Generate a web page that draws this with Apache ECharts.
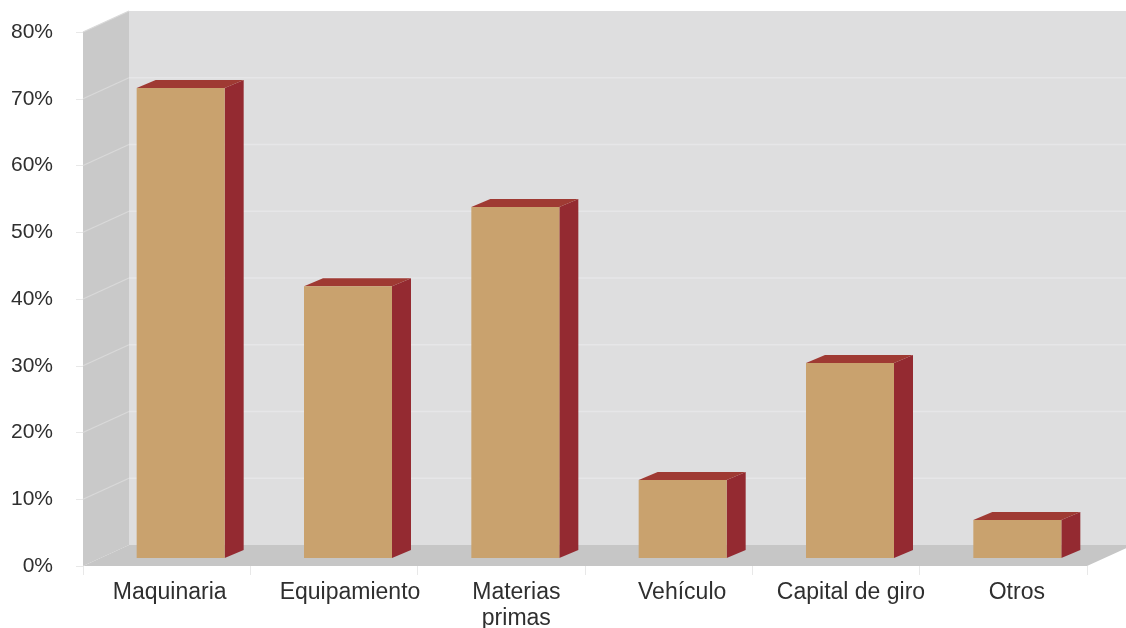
<!DOCTYPE html>
<html>
<head>
<meta charset="utf-8">
<style>html,body{margin:0;padding:0;background:#fff}#c{width:1126px;height:628px}</style>
<script src="https://cdn.jsdelivr.net/npm/echarts@6/dist/echarts.min.js"></script>
</head>
<body>
<div id="c"></div>
<script>
const categories = ['Maquinaria', 'Equipamiento', 'Materias\nprimas', 'Vehículo', 'Capital de giro', 'Otros'];
const values = [70.4, 40.7, 52.6, 11.7, 29.2, 5.7];
const gridValues = [10, 20, 30, 40, 50, 60, 70, 80];
const labelShift = [6, 32, 30, 27, 30, 27];

const WALL_DX = 46, WALL_DY = -21;
const BAR_DX = 14, BAR_DY = -8, BAR_W = 88, SIDE_DX = 19, SIDE_DY = -8;

function poly(points, fill) {
  return { type: 'polygon', shape: { points }, style: { fill }, silent: true };
}

const chart = echarts.init(document.getElementById('c'), null, { renderer: 'canvas' });
chart.setOption({
  animation: false,
  backgroundColor: '#ffffff',
  textStyle: { fontFamily: '"Liberation Sans", Arial, sans-serif' },
  grid: { left: 83, right: 39, top: 32, bottom: 62, containLabel: false, outerBoundsMode: 'none' },
  xAxis: {
    type: 'category',
    data: categories.map((c, i) => ({ value: c, textStyle: { padding: [0, 0, 0, labelShift[i]] } })),
    axisLine: { show: false },
    axisTick: { show: true, length: 9, alignWithLabel: false, lineStyle: { color: '#e8e8e8', width: 1 } },
    axisLabel: { interval: 0, margin: 14, fontSize: 23, lineHeight: 26, color: '#2f2f2f', hideOverlap: false }
  },
  yAxis: {
    type: 'value', min: 0, max: 80, interval: 10,
    axisLine: { show: false },
    axisTick: { show: true, length: 7, lineStyle: { color: '#e8e8e8', width: 1 } },
    splitLine: { show: false },
    axisLabel: { margin: 30, fontSize: 21, color: '#2f2f2f', formatter: '{value}%' }
  },
  series: [
    {
      type: 'custom', coordinateSystem: 'cartesian2d', clip: false, z: 1,
      data: [0],
      encode: { x: -1, y: -1 },
      renderItem(params, api) {
        const cs = params.coordSys;
        const L = cs.x, R = cs.x + cs.width, T = cs.y, B = cs.y + cs.height;
        const children = [
          poly([[L + WALL_DX, T + WALL_DY], [R + WALL_DX, T + WALL_DY], [R + WALL_DX, B + WALL_DY], [L + WALL_DX, B + WALL_DY]], '#dededf'),
          poly([[L, T], [L + WALL_DX, T + WALL_DY], [L + WALL_DX, B + WALL_DY], [L, B]], '#c9c9c9'),
          poly([[L, B], [L + WALL_DX, B + WALL_DY], [R + WALL_DX, B + WALL_DY], [R, B]], '#c6c6c6')
        ];
        gridValues.forEach(v => {
          const y = api.coord([0, v])[1];
          if (v < 80) {
            children.push({ type: 'line', shape: { x1: L + WALL_DX, y1: y + WALL_DY, x2: R + WALL_DX, y2: y + WALL_DY }, style: { stroke: '#e6e6e8', lineWidth: 1.5 }, silent: true });
          }
          children.push({ type: 'line', shape: { x1: L, y1: y, x2: L + WALL_DX, y2: y + WALL_DY }, style: { stroke: '#d9d9d9', lineWidth: 1.2 }, silent: true });
        });
        return { type: 'group', children };
      }
    },
    {
      type: 'custom', coordinateSystem: 'cartesian2d', clip: false, z: 2,
      data: values.map((v, i) => [i, v]),
      encode: { x: 0, y: 1 },
      renderItem(params, api) {
        const i = api.value(0), v = api.value(1);
        const top = api.coord([i, v]);
        const base = api.coord([i, 0]);
        const x0 = top[0] + BAR_DX - BAR_W / 2, x1 = x0 + BAR_W;
        const yT = top[1] + BAR_DY, yB = base[1] + BAR_DY;
        return {
          type: 'group',
          children: [
            poly([[x1, yT], [x1 + SIDE_DX, yT + SIDE_DY], [x1 + SIDE_DX, yB + SIDE_DY], [x1, yB]], '#942a31'),
            poly([[x0, yT], [x0 + SIDE_DX, yT + SIDE_DY], [x1 + SIDE_DX, yT + SIDE_DY], [x1, yT]], '#9f3a33'),
            poly([[x0, yT], [x1, yT], [x1, yB], [x0, yB]], '#c9a26e')
          ]
        };
      }
    }
  ]
});
</script>
</body>
</html>
